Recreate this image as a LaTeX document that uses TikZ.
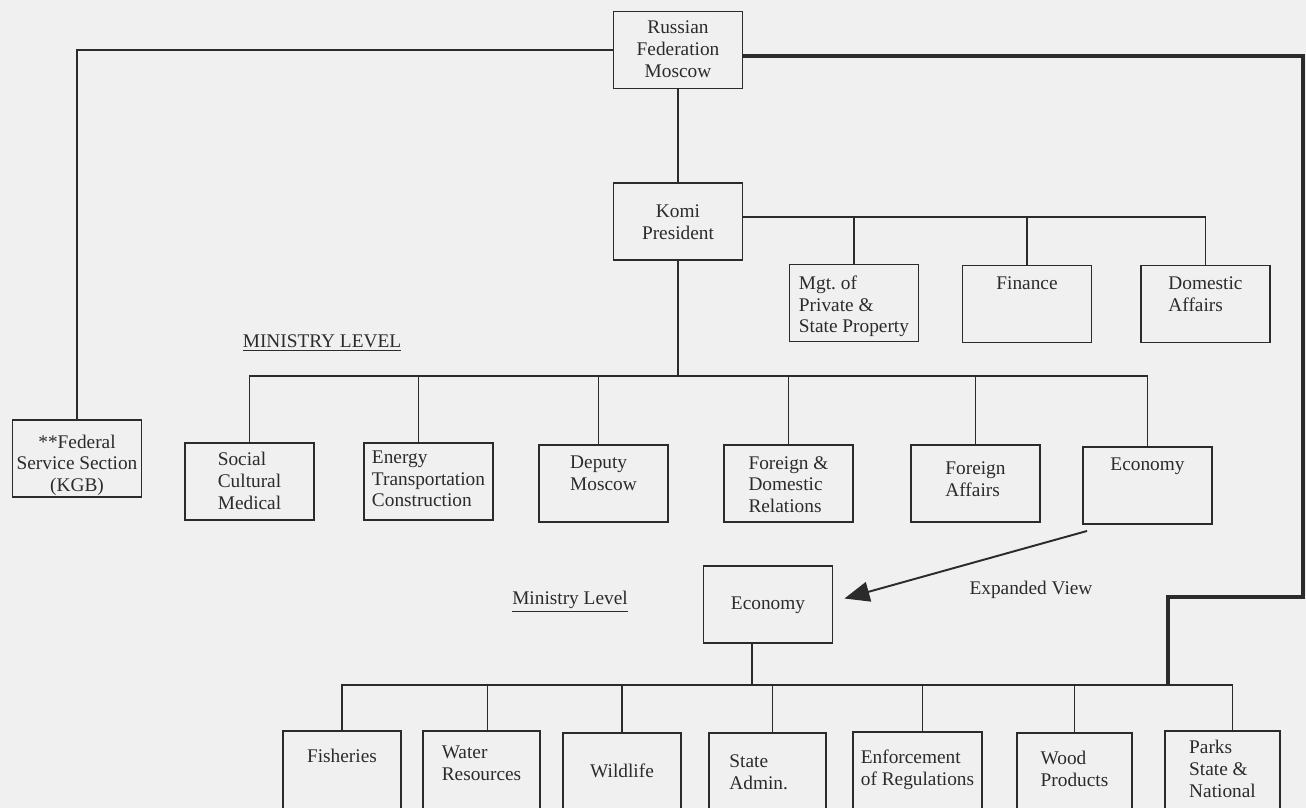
\documentclass[tikz,border=0pt]{standalone}
\usepackage{fontspec}
\setmainfont{Liberation Serif}
\usetikzlibrary{arrows.meta}
\definecolor{chartink}{HTML}{2B2B2B}
\definecolor{paper}{HTML}{F0F0F0}

\begin{document}
\begin{tikzpicture}[
    x=0.02cm, y=-0.02cm,
    every node/.style={font=\fontsize{11}{12.3}\selectfont, text=chartink},
    office/.style={draw=chartink, line width=1.1pt, minimum width=2.58cm, minimum height=1.54cm, inner sep=0pt},
    dept/.style={office, minimum width=2.34cm, minimum height=1.6cm},
    boxtext/.style={anchor=north, align=center, inner sep=4pt, yshift=-2.8pt},
    link/.style={draw=chartink, line width=1.1pt},
    federal link/.style={draw=chartink, line width=2.4pt},
    level text/.style={inner sep=1pt}
]

\fill [paper] (0,0) rectangle (1306,808);
\useasboundingbox (0,0) rectangle (1306,808);

\node [office, label={[boxtext, yshift=1pt]north:Russian\\Federation\\Moscow}] (rf) at (678,50) {};
\node [office, label={[boxtext, yshift=-6pt]north:Komi\\President}] (komi) at (678,221.5) {};

\node [office, label={[boxtext, align=left]north:Mgt.\ of\\Private \&\\State Property}] (mgt) at (854,303) {};
\node [office, label={[boxtext]north:Finance}] (fin) at (1027,304) {};
\node [office, label={[boxtext, align=left]north:Domestic\\Affairs}] (dom) at (1205.5,304) {};

\node [office, label={[boxtext, yshift=-2pt]north:**Federal\\Service Section\\(KGB)}] (kgb) at (77,458.5) {};

\node [office, label={[boxtext, align=left, yshift=1pt]north:Social\\Cultural\\Medical}] (soc) at (249.5,481.5) {};
\node [office, label={[boxtext, align=left, yshift=2pt]north:Energy\\Transportation\\Construction}] (ene) at (428.5,481.5) {};
\node [office, label={[boxtext, align=left]north:Deputy\\Moscow}] (dep) at (603.5,483.5) {};
\node [office, label={[boxtext, align=left]north:Foreign \&\\Domestic\\Relations}] (fdr) at (788.5,483.5) {};
\node [office, label={[boxtext, align=left, yshift=-3pt]north:Foreign\\Affairs}] (fa) at (975.5,483.5) {};
\node [office, label={[boxtext]north:Economy}] (eco) at (1147.5,485.5) {};

\node [office, label={[boxtext, yshift=-11pt]north:Economy}] (econx) at (768,604.5) {};

\node [dept, minimum width=2.36cm, label={[boxtext, yshift=-4pt]north:Fisheries}] (fish) at (342,771) {};
\node [dept, label={[boxtext, align=left, yshift=-2pt]north:Water\\Resources}] (water) at (481.5,771) {};
\node [dept, minimum width=2.36cm, label={[boxtext, yshift=-11pt]north:Wildlife}] (wild) at (622,773) {};
\node [dept, label={[boxtext, align=left, xshift=-5pt, yshift=-6pt]north:State\\Admin.}] (state) at (767.5,773) {};
\node [dept, minimum width=2.58cm, label={[boxtext, align=left, yshift=-4pt]north:Enforcement\\of Regulations}] (enf) at (917.5,772) {};
\node [dept, minimum width=2.3cm, label={[boxtext, align=left, yshift=-4pt]north:Wood\\Products}] (wood) at (1074.5,773) {};
\node [dept, minimum width=2.3cm, label={[boxtext, align=left, yshift=1pt]north:Parks\\State \&\\National}] (parks) at (1222.5,771) {};

\node [level text] (mintop) at (322,343) {\underline{MINISTRY LEVEL}};
\node [level text] (minlow) at (570,602) {\underline{Ministry Level}};
\node [level text] (expview) at (1031,590) {Expanded View};

\coordinate (kbus) at (742,217);
\coordinate (mbus) at (678,376);
\coordinate (bbus) at (752,685);
\coordinate (rturn) at (1303,597);
\coordinate (pjoin) at (1168,685);

\draw [link] (rf.west) -| (kgb.north);
\draw [federal link] ([shift={(0,6)}]rf.east) -| (rturn) -| (pjoin);
\draw [link] (rf.south) -- (komi.north);

\draw [link] (kbus) -| (dom.north);
\draw [link] (kbus) -| (mgt.north);
\draw [link] (kbus) -| (fin.north);

\draw [link] (komi.south) -- (mbus);
\draw [link] (mbus) -| (soc.north);
\draw [link] (mbus) -| ([shift={(-10,0)}]ene.north);
\draw [link] (mbus) -| ([shift={(-5,0)}]dep.north);
\draw [link] (mbus) -| (fdr.north);
\draw [link] (mbus) -| (fa.north);
\draw [link] (mbus) -| (eco.north);

\draw [link, -{Triangle[length=0.5cm, width=0.4cm]}] ([shift={(5,6)}]eco.south west) -- ([shift={(11,-6)}]econx.east);

\draw [link] (bbus |- econx.south) -- (bbus);
\draw [link] (bbus) -| (fish.north);
\draw [link] (bbus) -| ([shift={(6,0)}]water.north);
\draw [link] (bbus) -| (wild.north);
\draw [link] (bbus) -| ([shift={(5,0)}]state.north);
\draw [link] (bbus) -| ([shift={(5,0)}]enf.north);
\draw [link] (bbus) -| (wood.north);
\draw [link] (bbus) -| ([shift={(10,0)}]parks.north);

\end{tikzpicture}
\end{document}
